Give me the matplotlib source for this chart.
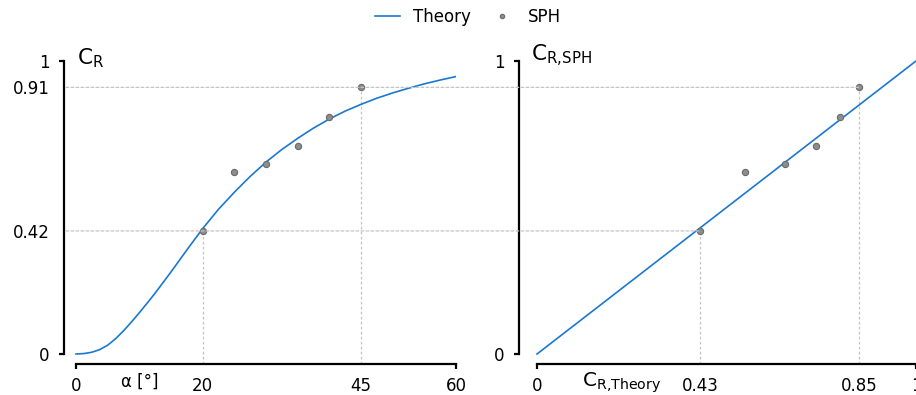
import numpy as np
import matplotlib
matplotlib.use("Agg")
import matplotlib.pyplot as plt
from matplotlib.patches import ConnectionPatch

# Theory curve C_R(alpha) (finer steps near the start)
alpha_theory = [0, 1.25, 2.5, 3.75, 5, 6.25, 7.5, 8.75, 10, 11.25, 12.5, 15,
                17.5, 20, 22.5, 25, 27.5, 30, 32.5, 35, 37.5, 40, 42.5, 45,
                47.5, 50, 52.5, 55, 57.5, 60]
cr_theory = [0.0, 0.0015, 0.006, 0.015, 0.030, 0.052, 0.079, 0.109, 0.141,
             0.174, 0.208, 0.280, 0.355, 0.428, 0.494, 0.552, 0.606, 0.655,
             0.698, 0.736, 0.771, 0.802, 0.829, 0.852, 0.873, 0.891, 0.907,
             0.922, 0.935, 0.947]

# SPH results
alpha_sph = [20, 25, 30, 35, 40, 45]
cr_sph = [0.42, 0.62, 0.65, 0.71, 0.81, 0.91]
cr_theory_at_sph = [0.43, 0.55, 0.655, 0.735, 0.80, 0.85]

# identity line for the right panel
ident = [0, 1]

left_xticks = [0, 20, 45, 60]
left_yticks = [0, 0.42, 0.91, 1]
right_xticks = [0, 0.43, 0.85, 1]
right_yticks = [0, 1]

blue = '#1a78d2'
grey_face = '#8d8d8d'
grey_edge = '#6a6a6a'
grid_c = '#c4c4c4'

plt.rcParams['font.family'] = ['DejaVu Sans']
plt.rcParams['font.size'] = 12

fig = plt.figure(figsize=(9.16, 3.95), dpi=100)
ax1 = fig.add_axes([64 / 916, 31 / 395, 392 / 916, 303 / 395])
ax2 = fig.add_axes([519 / 916, 31 / 395, 397 / 916, 303 / 395])

ylo = -10 / 293

def style(ax, xticks, yticks, xlim):
    ax.set_xlim(*xlim)
    ax.set_ylim(ylo, 1)
    for s in ['top', 'right']:
        ax.spines[s].set_visible(False)
    for s in ['left', 'bottom']:
        ax.spines[s].set_linewidth(1.6)
    ax.spines['left'].set_bounds(0, 1)
    ax.spines['bottom'].set_bounds(xticks[0], xticks[-1])
    ax.set_xticks(xticks)
    ax.set_yticks(yticks)
    ax.set_xticklabels([f'{t:g}' for t in xticks])
    ax.set_yticklabels([f'{t:g}' for t in yticks])
    ax.tick_params(length=3.5, width=1.6, direction='out', labelsize=12)
    ax.tick_params(axis='y', pad=7)
    ax.tick_params(axis='x', pad=6)
    # tick marks only at the ends of the axes
    for tk in ax.xaxis.get_major_ticks()[1:-1]:
        tk.tick1line.set_visible(False)
    for tk in ax.yaxis.get_major_ticks()[1:-1]:
        tk.tick1line.set_visible(False)

style(ax1, left_xticks, left_yticks, (-12 / 6.333, 60))
style(ax2, right_xticks, right_yticks, (-18 / 378.8, 1))

dash = (0, (2.2, 1.8))
dot = dict(color=grid_c, lw=0.9, ls=dash, zorder=1)

# left panel
ax1.plot(alpha_theory, cr_theory, color=blue, lw=1.2, label='Theory', zorder=3)
ax1.plot(alpha_sph, cr_sph, 'o', ms=4.5, mfc=grey_face, mec=grey_edge, mew=0.8,
         label='SPH', zorder=4, clip_on=False)
for i in [0, -1]:
    ax1.plot([alpha_sph[i], alpha_sph[i]], [ylo, cr_sph[i]], **dot)
    ax2.plot([cr_theory_at_sph[i], cr_theory_at_sph[i]], [ylo, cr_sph[i]], **dot)
    con = ConnectionPatch(xyA=(-10 / 6.333, cr_sph[i]), coordsA=ax1.transData,
                          xyB=(cr_theory_at_sph[i], cr_sph[i]), coordsB=ax2.transData,
                          color=grid_c, lw=0.9, ls=dash, zorder=1)
    fig.add_artist(con)

ax1.text(0.2, 0.99, r'C$_{\mathregular{R}}$', fontsize=15.5, ha='left', va='baseline')
ax1.text(7.1, -0.076, 'α [°]', fontsize=12, ha='left', va='baseline',
         transform=ax1.get_xaxis_transform())

# right panel
ax2.plot(ident, ident, color=blue, lw=1.2, zorder=3, clip_on=False)
ax2.plot(cr_theory_at_sph, cr_sph, 'o', ms=4.5, mfc=grey_face, mec=grey_edge,
         mew=0.8, zorder=4)
ax2.text(-0.016, 1.0, r'C$_{\mathregular{R{,}SPH}}$', fontsize=15.5, ha='left',
         va='baseline')
ax2.text(0.119, -0.076, r'C$_{\mathregular{R{,}Theory}}$', fontsize=14.5, ha='left',
         va='baseline', transform=ax2.get_xaxis_transform())

handles, labels = ax1.get_legend_handles_labels()
fig.legend(handles, labels, loc='center', bbox_to_anchor=(0.511, 0.957), ncol=2,
           frameon=False, handlelength=1.5, handletextpad=0.8, columnspacing=1.1,
           markerscale=0.7, fontsize=12)

fig.savefig('out.png', dpi=100)
